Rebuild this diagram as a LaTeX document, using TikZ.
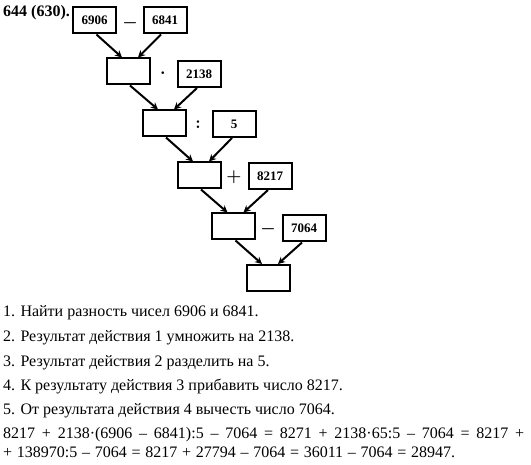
\documentclass[tikz,border=0pt]{standalone}
\usepackage{fontspec}
\setmainfont{Liberation Serif}
\usetikzlibrary{arrows.meta}

\begin{document}
\begin{tikzpicture}[x=1pt,y=-1pt,
    feld/.style={draw,line width=2pt,minimum width=43pt,minimum height=26pt,inner sep=0pt,font=\fontsize{13}{13}\selectfont\bfseries},
    op/.style={inner sep=0pt,font=\fontsize{18}{18}\selectfont\boldmath},
    pfeil/.style={line width=2pt,-{Stealth[length=7pt,width=7pt]}},
    zeile/.style={anchor=base west,inner sep=0pt,font=\fontsize{16}{16}\selectfont}]
    \useasboundingbox (0,0) rectangle (531,465);

    % Kaestchen
    \node[feld] (a) at (94.5,20.5) {6906};
    \node[feld] (b) at (165,20.5) {6841};
    \node[feld] (r1) at (128,71.5) {};
    \node[feld] (c) at (199,74) {2138};
    \node[feld] (r2) at (164,123.5) {};
    \node[feld] (d) at (234,124) {5};
    \node[feld] (r3) at (199,175.5) {};
    \node[feld] (e) at (270,176) {8217};
    \node[feld] (r4) at (233.5,226.5) {};
    \node[feld] (f) at (304,228.5) {7064};
    \node[feld] (r5) at (268,278) {};

    % Rechenzeichen
    \node[op] (o1) at (130,23) {$-$};
    \node[op] (o2) at (163,73) {$\cdot$};
    \node[op] (o3) at (198,125) {$:$};
    \node[op] (o4) at (234,177) {$+$};
    \node[op] (o5) at (268,229) {$-$};

    % Pfeile
    \draw[pfeil] ([xshift=2pt]a.south) -- ([xshift=-6pt]r1.north);
    \draw[pfeil] ([xshift=-4pt]b.south) -- ([xshift=10pt]r1.north);
    \draw[pfeil] ([xshift=2pt]r1.south) -- ([xshift=-6pt]r2.north);
    \draw[pfeil] ([xshift=-2pt]c.south) -- ([xshift=10pt]r2.north);
    \draw[pfeil] ([xshift=2pt]r2.south) -- ([xshift=-6pt]r3.north);
    \draw[pfeil] ([xshift=-2pt]d.south) -- ([xshift=10pt]r3.north);
    \draw[pfeil] ([xshift=2pt]r3.south) -- ([xshift=-6pt]r4.north);
    \draw[pfeil] ([xshift=-2pt]e.south) -- ([xshift=10pt]r4.north);
    \draw[pfeil] ([xshift=2pt]r4.south) -- ([xshift=-6pt]r5.north);
    \draw[pfeil] ([xshift=-2pt]f.south) -- ([xshift=10pt]r5.north);

    % Beschriftung
    \node[zeile,font=\fontsize{16}{16}\selectfont\bfseries] (titel) at (3,17) {644 (630).};
    \node[zeile] (s1) at (3,317) {1. Найти разность чисел 6906 и 6841.};
    \node[zeile] (s2) at (3,342) {2. Результат действия 1 умножить на 2138.};
    \node[zeile] (s3) at (3,367) {3. Результат действия 2 разделить на 5.};
    \node[zeile] (s4) at (3,391) {4. К результату действия 3 прибавить число 8217.};
    \node[zeile] (s5) at (3,415) {5. От результата действия 4 вычесть число 7064.};
    \node[zeile] (g1) at (3,439) {\makebox[521pt][s]{8217 + 2138·(6906 – 6841):5 – 7064 = 8271 + 2138·65:5 – 7064 = 8217 +}};
    \node[zeile] (g2) at (3,457) {\spaceskip=2.5pt plus 1pt minus 1pt\makebox[452pt][s]{+ 138970:5 – 7064 = 8217 + 27794 – 7064 = 36011 – 7064 = 28947.}};
\end{tikzpicture}
\end{document}
